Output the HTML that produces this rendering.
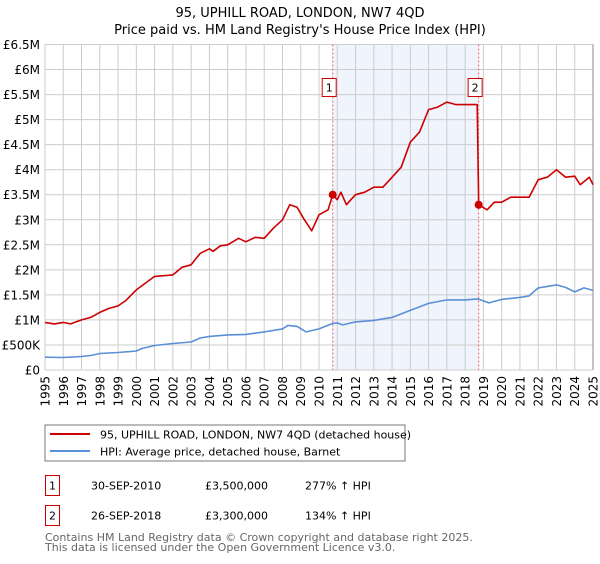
<!DOCTYPE html>
<html><head><meta charset="utf-8"><style>
body{margin:0;background:#fff;font-family:"DejaVu Sans","Liberation Sans",sans-serif;}
svg text{font-family:"DejaVu Sans","Liberation Sans",sans-serif;}
</style></head><body>
<svg id="chart" width="600" height="560" xmlns="http://www.w3.org/2000/svg">
<text x="300" y="17" text-anchor="middle" font-size="13">95, UPHILL ROAD, LONDON, NW7 4QD</text>
<text x="300" y="34" text-anchor="middle" font-size="13">Price paid vs. HM Land Registry's House Price Index (HPI)</text>
<g id="plot"></g>
<rect x="45" y="425" width="360" height="36" fill="none" stroke="#777"/>
<line x1="50" y1="434" x2="90" y2="434" stroke="#cc0000" stroke-width="2"/>
<text x="100" y="438.5" font-size="11">95, UPHILL ROAD, LONDON, NW7 4QD (detached house)</text>
<line x1="50" y1="451" x2="90" y2="451" stroke="#5b8fd6" stroke-width="2"/>
<text x="100" y="455.5" font-size="11">HPI: Average price, detached house, Barnet</text>
<rect x="45.5" y="475.5" width="14" height="20" fill="none" stroke="#cc0000"/>
<text x="52.5" y="489.5" text-anchor="middle" font-size="11">1</text>
<text x="91" y="489.5" font-size="11">30-SEP-2010</text>
<text x="205" y="489.5" font-size="11">£3,500,000</text>
<text x="305" y="489.5" font-size="11">277% ↑ HPI</text>
<rect x="45.5" y="505.5" width="14" height="20" fill="none" stroke="#cc0000"/>
<text x="52.5" y="519.5" text-anchor="middle" font-size="11">2</text>
<text x="91" y="519.5" font-size="11">26-SEP-2018</text>
<text x="205" y="519.5" font-size="11">£3,300,000</text>
<text x="305" y="519.5" font-size="11">134% ↑ HPI</text>
<text x="45" y="541" font-size="11" fill="#666">Contains HM Land Registry data © Crown copyright and database right 2025.</text>
<text x="45" y="551" font-size="11" fill="#666">This data is licensed under the Open Government Licence v3.0.</text>
</svg>
<script>
const yTicks=[0,500,1000,1500,2000,2500,3000,3500,4000,4500,5000,5500,6000,6500];
const yTickLabels=["£0","£500K","£1M","£1.5M","£2M","£2.5M","£3M","£3.5M","£4M","£4.5M","£5M","£5.5M","£6M","£6.5M"];
const xYears=[1995,1996,1997,1998,1999,2000,2001,2002,2003,2004,2005,2006,2007,2008,2009,2010,2011,2012,2013,2014,2015,2016,2017,2018,2019,2020,2021,2022,2023,2024,2025];
const hpiT=[1995,1996,1997,1997.5,1998,1999,2000,2000.3,2001,2002,2003,2003.5,2004,2005,2006,2007,2008,2008.3,2008.8,2009.3,2010,2010.75,2011,2011.3,2012,2013,2014,2015,2016,2017,2018,2018.7,2019.3,2020,2021,2021.5,2022,2022.5,2023,2023.5,2024,2024.5,2025];
const hpiV=[255,250,270,290,330,350,380,430,490,530,560,640,670,700,710,760,820,890,870,760,820,930,940,900,960,990,1050,1190,1330,1400,1400,1420,1340,1410,1450,1480,1640,1670,1700,1650,1560,1640,1590];
const priceT=[1995,1995.5,1996,1996.4,1997,1997.5,1998,1998.5,1999,1999.4,2000,2001,2002,2002.5,2003,2003.5,2004,2004.2,2004.6,2005,2005.6,2006,2006.5,2007,2007.5,2008,2008.4,2008.8,2009.2,2009.6,2010,2010.5,2010.75,2011,2011.2,2011.5,2012,2012.5,2013,2013.5,2014,2014.5,2015,2015.5,2016,2016.5,2017,2017.5,2018,2018.66,2018.74,2019.2,2019.6,2020,2020.5,2021,2021.5,2022,2022.5,2023,2023.5,2024,2024.3,2024.8,2025];
const priceV=[950,920,950,920,1000,1050,1150,1230,1280,1380,1600,1870,1900,2050,2100,2330,2420,2370,2480,2500,2630,2560,2650,2630,2830,3000,3300,3250,3000,2780,3100,3200,3500,3400,3550,3300,3500,3550,3650,3650,3850,4050,4550,4750,5200,5250,5350,5300,5300,5300,3300,3200,3350,3350,3450,3450,3450,3800,3850,4000,3850,3870,3700,3850,3700];
const sales=[{t:2010.75,v:3500,n:"1"},{t:2018.74,v:3300,n:"2"}];
const X=t=>45+(t-1995)*(548/30);
const Y=v=>370-v*(325.5/6500);
const g=document.getElementById('plot');
const NS="http://www.w3.org/2000/svg";
function mk(tag,attrs){const e=document.createElementNS(NS,tag);for(const k in attrs)e.setAttribute(k,attrs[k]);g.appendChild(e);return e;}
let e=mk('rect',{x:X(sales[0].t),y:Y(6500),width:X(sales[1].t)-X(sales[0].t),height:Y(0)-Y(6500),fill:'#f0f4fd'});


yTicks.forEach((v,i)=>{
 let l=mk('line',{x1:45,x2:593,y1:Y(v),y2:Y(v),stroke:'#ccc'});
 
 
 let t=mk('text',{x:40,y:Y(v)+4.5,'text-anchor':'end','font-size':'12'});t.textContent=yTickLabels[i];
 
 
});
xYears.forEach(yr=>{
 let l=mk('line',{x1:X(yr),x2:X(yr),y1:Y(6500),y2:Y(0),stroke:'#ccc'});
 
 
 let t=mk('text',{x:0,y:0,'text-anchor':'end','font-size':'12',transform:`translate(${X(yr)+4.5},376) rotate(-90)`});t.textContent=yr;
 
 
});
let ax=mk('line',{x1:593,x2:593,y1:Y(6500),y2:Y(0),stroke:'#888'});


sales.forEach(s=>{
 let l=mk('line',{x1:X(s.t),x2:X(s.t),y1:Y(6500),y2:Y(0),stroke:'#f06060','stroke-dasharray':'2,2'});
 
 
});
function path(T,V,col,name){
 let d=T.map((t,i)=>(i?'L':'M')+X(t).toFixed(1)+','+Y(V[i]).toFixed(1)).join('');
 let p=mk('path',{d:d,fill:'none',stroke:col,'stroke-width':'1.6','stroke-linejoin':'round'});
 
 
}
path(hpiT,hpiV,'#5b8fd6','hpi-line');
path(priceT,priceV,'#cc0000','price-line');
sales.forEach(s=>{
 let c=mk('circle',{cx:X(s.t),cy:Y(s.v),r:4,fill:'#cc0000'});
 
 
 let r=mk('rect',{x:X(s.t)-10.5,y:78.5,width:14,height:18,fill:'#fff',stroke:'#cc0000'});
 
 
 let t=mk('text',{x:X(s.t)-3.5,y:91.5,'text-anchor':'middle','font-size':'11'});t.textContent=s.n;
 
 
});
</script>
</body></html>
